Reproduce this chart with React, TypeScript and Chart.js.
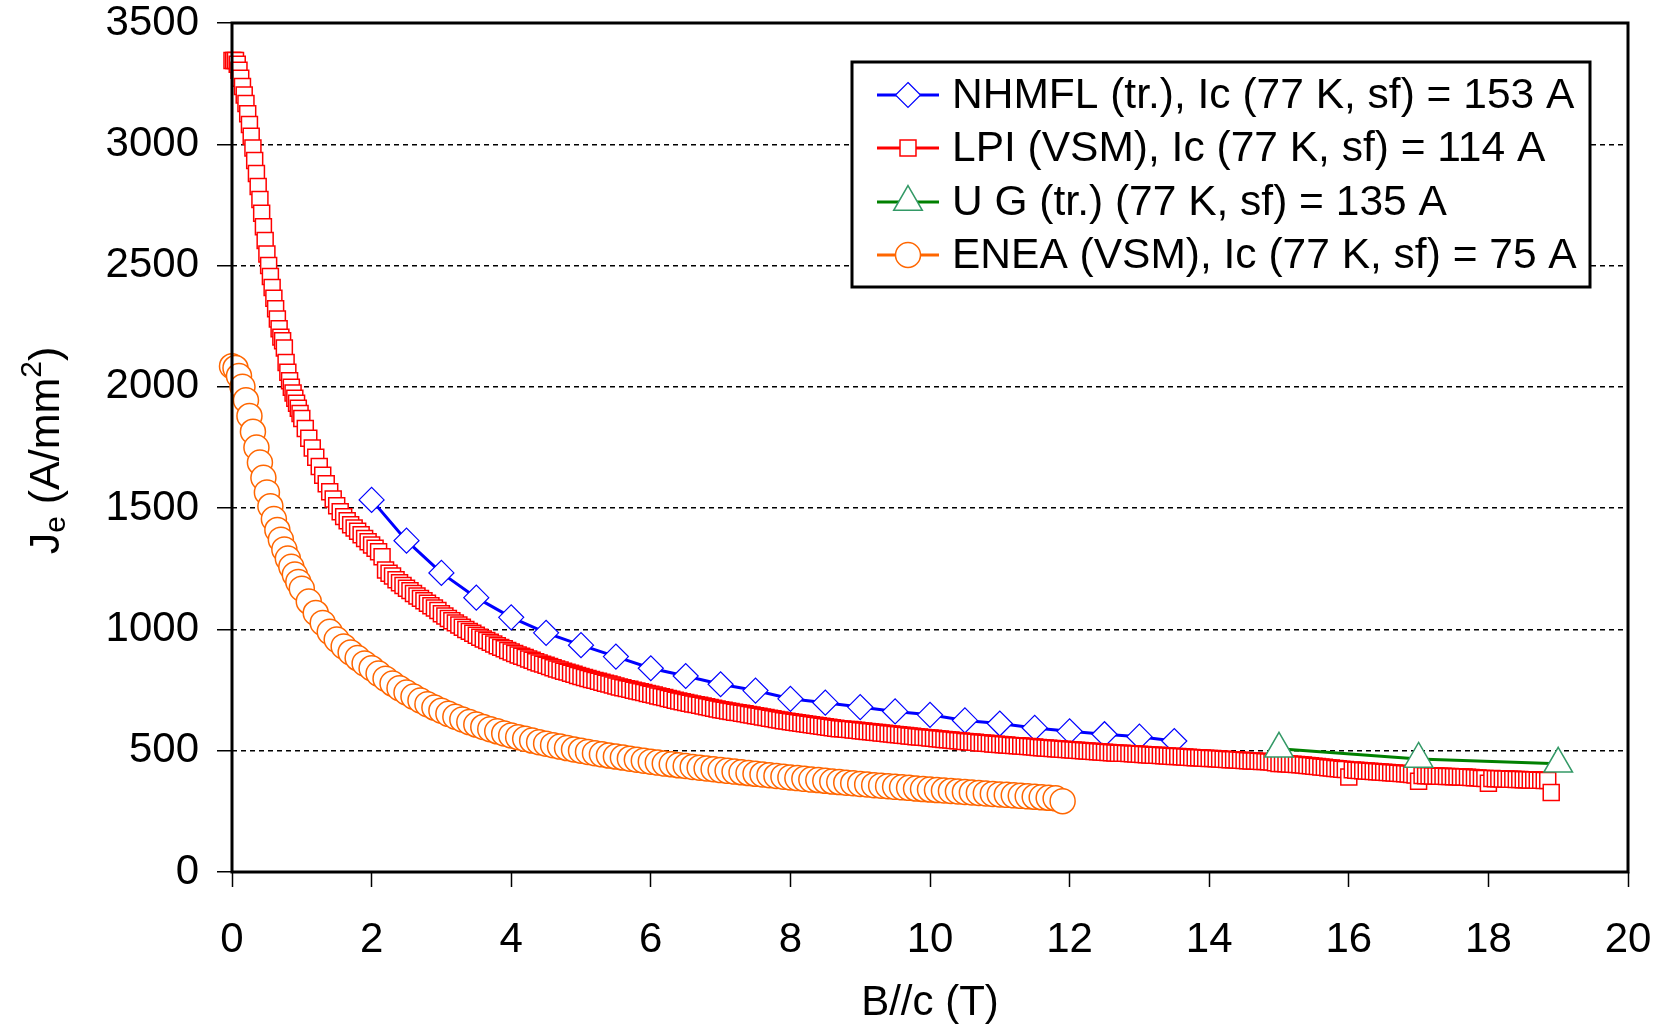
import React, { useEffect, useRef } from 'react';
import { Chart, registerables } from 'chart.js';

Chart.register(...registerables);

const FONT = "'Liberation Sans', Arial, Helvetica, sans-serif";

// Series labels
const seriesLabels = [
  'NHMFL (tr.), Ic (77 K, sf) = 153 A',
  'LPI (VSM), Ic (77 K, sf) = 114 A',
  'U G (tr.) (77 K, sf) = 135 A',
  'ENEA (VSM), Ic (77 K, sf) = 75 A',
];

// NHMFL (transport) : field (T) and Je (A/mm2)
const nhmflField = [2, 2.5, 3, 3.5, 4, 4.5, 5, 5.5, 6, 6.5, 7, 7.5, 8, 8.5, 9, 9.5, 10, 10.5, 11, 11.5, 12, 12.5, 13, 13.5];
const nhmflJe = [1534, 1366, 1233, 1131, 1050, 986, 935, 888, 840, 808, 774, 748, 714, 698, 680, 662, 648, 625, 612, 594, 580, 568, 558, 540];

// LPI (VSM) : [field, Je]
const lpiPoints: [number, number][] = [
  [0, 3345], [0.025, 3345], [0.05, 3345], [0.075, 3330], [0.1, 3305], [0.125, 3272], [0.15, 3238], [0.175, 3203],
  [0.2, 3168], [0.225, 3126], [0.25, 3082], [0.275, 3033], [0.3, 2985], [0.325, 2933], [0.35, 2880], [0.375, 2826],
  [0.4, 2772], [0.425, 2716], [0.45, 2660], [0.475, 2603], [0.5, 2548], [0.525, 2500], [0.55, 2455], [0.575, 2410],
  [0.6, 2365], [0.625, 2322], [0.65, 2280], [0.675, 2240], [0.7, 2205], [0.725, 2190], [0.75, 2160], [0.775, 2100],
  [0.8, 2060], [0.825, 2025], [0.85, 1998], [0.875, 1975], [0.9, 1953], [0.925, 1932], [0.95, 1912], [0.975, 1890],
  [1.0, 1870], [1.05, 1828], [1.1, 1788], [1.15, 1748], [1.2, 1710], [1.25, 1672], [1.3, 1636], [1.35, 1601],
  [1.4, 1568], [1.45, 1538], [1.5, 1510], [1.55, 1485], [1.6, 1465], [1.65, 1448], [1.7, 1432], [1.75, 1418],
  [1.8, 1405], [1.85, 1390], [1.9, 1375], [1.95, 1361], [2.0, 1348], [2.05, 1335], [2.1, 1320], [2.15, 1300],
  [2.2, 1245], [2.25, 1232], [2.3, 1220], [2.35, 1205], [2.4, 1192], [2.45, 1181], [2.5, 1170], [2.55, 1160],
  [2.6, 1148], [2.65, 1138], [2.7, 1128], [2.75, 1118], [2.8, 1108], [2.85, 1098], [2.9, 1088], [2.95, 1078],
  [3.0, 1065], [3.05, 1055], [3.1, 1045], [3.15, 1036], [3.2, 1027], [3.25, 1018], [3.3, 1009], [3.35, 1000],
  [3.4, 992], [3.45, 984], [3.5, 976], [3.55, 968], [3.6, 961], [3.65, 954], [3.7, 947], [3.75, 940],
  [3.8, 933], [3.85, 926], [3.9, 920], [3.95, 913], [4.0, 907], [4.05, 901], [4.1, 895], [4.15, 889],
  [4.2, 884], [4.25, 878], [4.3, 873], [4.35, 867], [4.4, 862], [4.45, 857], [4.5, 852], [4.55, 847],
  [4.6, 842], [4.65, 837], [4.7, 833], [4.75, 828], [4.8, 824], [4.85, 819], [4.9, 815], [4.95, 810],
  [5.0, 806], [5.05, 802], [5.1, 798], [5.15, 794], [5.2, 790], [5.25, 786], [5.3, 782], [5.35, 778],
  [5.4, 775], [5.45, 771], [5.5, 767], [5.55, 763], [5.6, 760], [5.65, 756], [5.7, 753], [5.75, 749],
  [5.8, 746], [5.85, 743], [5.9, 740], [5.95, 736], [6.0, 733], [6.05, 730], [6.1, 726], [6.15, 722],
  [6.2, 719], [6.25, 715], [6.3, 712], [6.35, 708], [6.4, 705], [6.45, 702], [6.5, 699], [6.55, 696],
  [6.6, 693], [6.65, 690], [6.7, 687], [6.75, 684], [6.8, 681], [6.85, 678], [6.9, 675], [6.95, 672],
  [7.0, 669], [7.05, 667], [7.1, 664], [7.15, 662], [7.2, 659], [7.25, 657], [7.3, 654], [7.35, 652],
  [7.4, 649], [7.45, 647], [7.5, 644], [7.55, 642], [7.6, 639], [7.65, 637], [7.7, 634], [7.75, 632],
  [7.8, 629], [7.85, 627], [7.9, 624], [7.95, 622], [8.0, 619], [8.05, 617], [8.1, 615], [8.15, 613],
  [8.2, 611], [8.25, 609], [8.3, 607], [8.35, 605], [8.4, 603], [8.45, 601], [8.5, 599], [8.55, 597],
  [8.6, 595], [8.65, 593], [8.7, 591], [8.75, 590], [8.8, 588], [8.85, 587], [8.9, 585], [8.95, 584],
  [9.0, 582], [9.05, 581], [9.1, 579], [9.15, 578], [9.2, 576], [9.25, 575], [9.3, 573], [9.35, 572],
  [9.4, 570], [9.45, 569], [9.5, 567], [9.55, 566], [9.6, 564], [9.65, 563], [9.7, 561], [9.75, 560],
  [9.8, 558], [9.85, 557], [9.9, 555], [9.95, 554], [10.0, 552], [10.05, 551], [10.1, 549], [10.15, 548],
  [10.2, 546], [10.25, 545], [10.3, 544], [10.35, 542], [10.4, 541], [10.45, 540], [10.5, 538], [10.55, 537],
  [10.6, 536], [10.65, 535], [10.7, 533], [10.75, 532], [10.8, 531], [10.85, 530], [10.9, 528], [10.95, 527],
  [11.0, 526], [11.05, 525], [11.1, 524], [11.15, 522], [11.2, 521], [11.25, 520], [11.3, 519], [11.35, 518],
  [11.4, 517], [11.45, 516], [11.5, 515], [11.55, 513], [11.6, 512], [11.65, 511], [11.7, 510], [11.75, 509],
  [11.8, 508], [11.85, 507], [11.9, 506], [11.95, 505], [12.0, 504], [12.05, 503], [12.1, 502], [12.15, 501],
  [12.2, 500], [12.25, 499], [12.3, 498], [12.35, 497], [12.4, 496], [12.45, 495], [12.5, 494], [12.55, 493],
  [12.6, 492], [12.65, 491], [12.7, 490], [12.75, 490], [12.8, 489], [12.85, 488], [12.9, 487], [12.95, 486],
  [13.0, 485], [13.05, 484], [13.1, 483], [13.15, 482], [13.2, 481], [13.25, 481], [13.3, 480], [13.35, 479],
  [13.4, 478], [13.45, 477], [13.5, 476], [13.55, 476], [13.6, 475], [13.65, 474], [13.7, 473], [13.75, 472],
  [13.8, 471], [13.85, 471], [13.9, 470], [13.95, 469], [14.0, 468], [14.05, 468], [14.1, 467], [14.15, 466],
  [14.2, 465], [14.25, 464], [14.3, 463], [14.35, 463], [14.4, 462], [14.45, 461], [14.5, 460], [14.55, 459],
  [14.6, 458], [14.65, 458], [14.7, 457], [14.75, 456], [14.8, 455], [14.85, 454], [14.9, 453], [14.95, 450],
  [15.0, 447], [15.05, 447], [15.1, 446], [15.15, 445], [15.2, 444], [15.25, 443], [15.3, 442], [15.35, 441],
  [15.4, 439], [15.45, 438], [15.5, 436], [15.55, 435], [15.6, 433], [15.65, 432], [15.7, 430], [15.75, 429],
  [15.8, 427], [15.85, 426], [15.9, 424], [15.95, 423], [16.0, 392], [16.05, 421], [16.1, 419], [16.15, 418],
  [16.2, 417], [16.25, 416], [16.3, 415], [16.35, 414], [16.4, 413], [16.45, 412], [16.5, 411], [16.55, 410],
  [16.6, 409], [16.65, 408], [16.7, 407], [16.75, 406], [16.8, 405], [16.85, 404], [16.9, 402], [16.95, 400],
  [17.0, 374], [17.05, 398], [17.1, 397], [17.15, 397], [17.2, 396], [17.25, 396], [17.3, 395], [17.35, 395],
  [17.4, 394], [17.45, 394], [17.5, 393], [17.55, 393], [17.6, 392], [17.65, 392], [17.7, 391], [17.75, 390],
  [17.8, 389], [17.85, 388], [17.9, 386], [17.95, 385], [18.0, 366], [18.05, 385], [18.1, 384], [18.15, 384],
  [18.2, 383], [18.25, 383], [18.3, 382], [18.35, 382], [18.4, 381], [18.45, 381], [18.5, 380], [18.55, 380],
  [18.6, 379], [18.65, 379], [18.7, 378], [18.75, 378], [18.8, 377], [18.85, 377], [18.9, 328],
];

// U G (transport)
const ugField = [15, 17, 19];
const ugJe = [508, 466, 446];

// ENEA (VSM) : [field, Je]
const eneaPoints: [number, number][] = [
  [0, 2085], [0.05, 2078], [0.1, 2045], [0.15, 2000], [0.2, 1945], [0.25, 1880], [0.3, 1815], [0.35, 1750],
  [0.4, 1688], [0.45, 1625], [0.5, 1565], [0.55, 1508], [0.6, 1455], [0.65, 1410], [0.7, 1370], [0.75, 1330],
  [0.8, 1292], [0.85, 1258], [0.9, 1226], [0.95, 1196], [1.0, 1168], [1.1, 1115], [1.2, 1068], [1.3, 1027],
  [1.4, 990], [1.5, 958], [1.6, 930], [1.7, 905], [1.8, 882], [1.9, 860], [2.0, 840], [2.1, 818],
  [2.2, 797], [2.3, 777], [2.4, 758], [2.5, 740], [2.6, 723], [2.7, 707], [2.8, 692], [2.9, 678],
  [3.0, 665], [3.1, 652], [3.2, 640], [3.3, 629], [3.4, 618], [3.5, 608], [3.6, 598], [3.7, 589],
  [3.8, 580], [3.9, 571], [4.0, 563], [4.1, 556], [4.2, 549], [4.3, 542], [4.4, 535], [4.5, 529],
  [4.6, 523], [4.7, 517], [4.8, 511], [4.9, 505], [5.0, 500], [5.1, 495], [5.2, 490], [5.3, 485],
  [5.4, 480], [5.5, 476], [5.6, 472], [5.7, 467], [5.8, 463], [5.9, 459], [6.0, 455], [6.1, 451],
  [6.2, 447], [6.3, 444], [6.4, 440], [6.5, 437], [6.6, 433], [6.7, 430], [6.8, 427], [6.9, 424],
  [7.0, 420], [7.1, 417], [7.2, 414], [7.3, 411], [7.4, 408], [7.5, 405], [7.6, 402], [7.7, 399],
  [7.8, 396], [7.9, 393], [8.0, 390], [8.1, 387], [8.2, 384], [8.3, 381], [8.4, 379], [8.5, 376],
  [8.6, 373], [8.7, 371], [8.8, 368], [8.9, 366], [9.0, 363], [9.1, 361], [9.2, 358], [9.3, 356],
  [9.4, 354], [9.5, 351], [9.6, 349], [9.7, 347], [9.8, 344], [9.9, 342], [10.0, 340], [10.1, 338],
  [10.2, 336], [10.3, 334], [10.4, 332], [10.5, 330], [10.6, 328], [10.7, 326], [10.8, 324], [10.9, 322],
  [11.0, 320], [11.1, 318], [11.2, 316], [11.3, 314], [11.4, 312], [11.5, 310], [11.6, 308], [11.7, 306],
  [11.8, 304], [11.9, 292],
];

const xAxisTitle = 'B//c (T)';

type Marker = 'rectRot' | 'rect' | 'triangle' | 'circle';

function drawMarker(ctx: CanvasRenderingContext2D, style: Marker, x: number, y: number, r: number, stroke: string, lw: number) {
  ctx.save();
  ctx.beginPath();
  if (style === 'rectRot') {
    ctx.moveTo(x, y - r);
    ctx.lineTo(x + r, y);
    ctx.lineTo(x, y + r);
    ctx.lineTo(x - r, y);
    ctx.closePath();
  } else if (style === 'rect') {
    const s = r * Math.SQRT1_2;
    ctx.rect(x - s, y - s, 2 * s, 2 * s);
  } else if (style === 'triangle') {
    ctx.moveTo(x, y - r);
    ctx.lineTo(x + r * 0.8660254, y + r * 0.5);
    ctx.lineTo(x - r * 0.8660254, y + r * 0.5);
    ctx.closePath();
  } else {
    ctx.arc(x, y, r, 0, Math.PI * 2);
  }
  ctx.fillStyle = '#ffffff';
  ctx.fill();
  ctx.lineWidth = lw;
  ctx.strokeStyle = stroke;
  ctx.stroke();
  ctx.restore();
}

const zeroPadding = (scale: any) => {
  scale.paddingLeft = 0;
  scale.paddingRight = 0;
  scale.paddingTop = 0;
  scale.paddingBottom = 0;
};

export default function App() {
  const canvasRef = useRef<HTMLCanvasElement | null>(null);

  useEffect(() => {
    const canvas = canvasRef.current;
    if (!canvas) return;

    const styles = [
      { line: '#0000FF', marker: '#0000FF', style: 'rectRot' as Marker, r: 12.5, lw: 1.2 },
      { line: '#FF0000', marker: '#FF0000', style: 'rect' as Marker, r: 11.3, lw: 1.5 },
      { line: '#008000', marker: '#339966', style: 'triangle' as Marker, r: 16.5, lw: 1.5 },
      { line: '#FF6600', marker: '#FF6600', style: 'circle' as Marker, r: 12.5, lw: 1.5 },
    ];

    const dataSets = [
      nhmflField.map((x, i) => ({ x, y: nhmflJe[i] })),
      lpiPoints.map(([x, y]) => ({ x, y })),
      ugField.map((x, i) => ({ x, y: ugJe[i] })),
      eneaPoints.map(([x, y]) => ({ x, y })),
    ];

    const overlay = {
      id: 'overlay',
      afterDatasetsDraw(chart: any) {
        const ctx: CanvasRenderingContext2D = chart.ctx;
        const a = chart.chartArea;
        ctx.save();
        // plot frame
        ctx.lineWidth = 3;
        ctx.strokeStyle = '#000';
        ctx.strokeRect(a.left, a.top, a.right - a.left, a.bottom - a.top);

        // legend
        const bx = 852, by = 62, bw = 738, bh = 225;
        ctx.fillStyle = '#fff';
        ctx.fillRect(bx, by, bw, bh);
        ctx.lineWidth = 3;
        ctx.strokeStyle = '#000';
        ctx.strokeRect(bx, by, bw, bh);
        const rows = [95, 148, 202, 255];
        ctx.font = `42.5px ${FONT}`;
        ctx.textBaseline = 'middle';
        ctx.textAlign = 'left';
        seriesLabels.forEach((lab, i) => {
          const s = styles[i];
          const y = rows[i];
          ctx.beginPath();
          ctx.moveTo(877, y);
          ctx.lineTo(939, y);
          ctx.lineWidth = 3;
          ctx.strokeStyle = s.line;
          ctx.stroke();
          drawMarker(ctx, s.style, 908, y, s.r, s.marker, s.lw);
          ctx.fillStyle = '#000';
          ctx.fillText(lab, 952, y + 1);
        });
        ctx.restore();
      },
      afterDraw(chart: any) {
        const ctx: CanvasRenderingContext2D = chart.ctx;
        const a = chart.chartArea;
        ctx.save();
        ctx.fillStyle = '#000';
        // x title
        ctx.font = `42px ${FONT}`;
        ctx.textAlign = 'center';
        ctx.textBaseline = 'middle';
        ctx.fillText(xAxisTitle, (a.left + a.right) / 2, 1003);

        // y title with subscript / superscript
        ctx.translate(44, (a.top + a.bottom) / 2 + 3);
        ctx.rotate(-Math.PI / 2);
        ctx.textAlign = 'left';
        ctx.textBaseline = 'alphabetic';
        const big = `43px ${FONT}`;
        const small = `30px ${FONT}`;
        const parts: { t: string; f: string; dy: number }[] = [
          { t: 'J', f: big, dy: 0 },
          { t: 'e', f: small, dy: 6 },
          { t: ' (A/mm', f: big, dy: 0 },
          { t: '2', f: small, dy: -18 },
          { t: ')', f: big, dy: 0 },
        ];
        let total = 0;
        parts.forEach((p) => { ctx.font = p.f; total += ctx.measureText(p.t).width; });
        let x = -total / 2;
        const base = 15;
        parts.forEach((p) => {
          ctx.font = p.f;
          ctx.fillText(p.t, x, base + p.dy);
          x += ctx.measureText(p.t).width;
        });
        ctx.restore();
      },
    };

    const chart = new Chart(canvas, {
      type: 'scatter',
      data: {
        datasets: dataSets.map((d, i) => ({
          label: seriesLabels[i],
          data: d,
          showLine: true,
          borderColor: styles[i].line,
          borderWidth: 3,
          backgroundColor: '#ffffff',
          pointStyle: styles[i].style,
          pointRadius: styles[i].r,
          pointHoverRadius: styles[i].r,
          pointBorderColor: styles[i].marker,
          pointBackgroundColor: '#ffffff',
          pointBorderWidth: styles[i].lw,
          pointHoverBorderWidth: styles[i].lw,
          tension: 0,
          clip: false as any,
          order: 3 - i,
        })),
      },
      options: {
        animation: false,
        responsive: false,
        maintainAspectRatio: false,
        devicePixelRatio: 1,
        events: [],
        layout: { padding: { left: 0, top: 23, right: 37, bottom: 0 } },
        plugins: {
          legend: { display: false },
          tooltip: { enabled: false },
          title: { display: false },
        },
        scales: {
          x: {
            type: 'linear',
            min: 0,
            max: 20,
            afterFit: (scale: any) => { scale.height = 157; zeroPadding(scale); },
            ticks: {
              stepSize: 2,
              color: '#000',
              padding: 32,
              font: { family: FONT, size: 42, lineHeight: 1 },
              maxRotation: 0,
              callback: (v: any) => String(v),
            },
            grid: {
              drawOnChartArea: false,
              drawTicks: true,
              tickLength: 15,
              tickColor: '#000',
              tickWidth: 1.5,
              color: 'rgba(0,0,0,0)',
            },
            border: { display: false },
          },
          y: {
            type: 'linear',
            min: 0,
            max: 3500,
            afterFit: (scale: any) => { scale.width = 232; zeroPadding(scale); },
            ticks: {
              stepSize: 500,
              color: '#000',
              padding: 18,
              font: { family: FONT, size: 42, lineHeight: 1 },
              callback: (v: any) => String(v),
            },
            grid: {
              drawOnChartArea: true,
              drawTicks: true,
              tickLength: 15,
              tickColor: '#000',
              tickWidth: 1.5,
              lineWidth: 1.5,
              color: (c: any) => (c.tick && c.tick.value > 0 && c.tick.value < 3500 ? '#000' : 'rgba(0,0,0,0)'),
            },
            border: { display: false, dash: [5, 4] },
          },
        },
      },
      plugins: [overlay],
    });

    return () => { chart.destroy(); };
  }, []);

  return (
    <div style={{ position: 'absolute', left: 0, top: 0, width: 1665, height: 1029, background: '#fff' }}>
      <canvas ref={canvasRef} width={1665} height={1029} style={{ display: 'block', width: 1665, height: 1029 }} />
    </div>
  );
}
